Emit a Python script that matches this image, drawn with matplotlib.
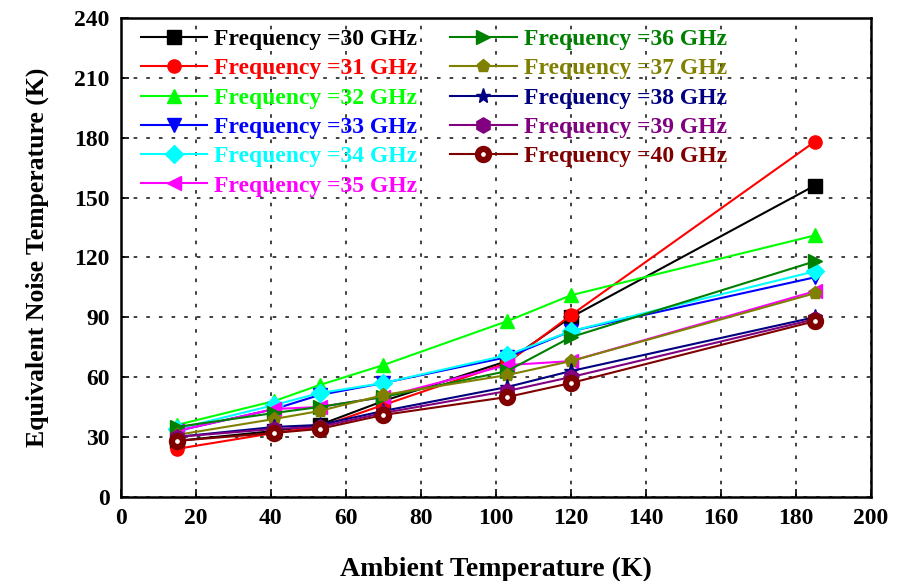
import matplotlib

matplotlib.use("Agg")
import matplotlib.pyplot as plt
import numpy as np

ambient_k = [15, 41, 53, 70, 103, 120, 185]

noise_30 = [28, 33, 36, 48, 68, 90, 156]
noise_31 = [24, 32, 35, 46, 67, 91, 178]
noise_32 = [36, 48, 56, 66, 88, 101, 131]
noise_33 = [33, 44, 51, 57, 70, 83, 110]
noise_34 = [34, 46, 52, 57, 71, 83, 113]
noise_35 = [33, 44, 45, 50, 66, 68, 103]
noise_36 = [35, 42, 45, 50, 63, 80, 118]
noise_37 = [31, 39, 43, 51, 61, 68, 102]
noise_38 = [30, 35, 36, 43, 55, 63, 90]
noise_39 = [30, 34, 35, 42, 53, 60, 89]
noise_40 = [28, 32, 34, 41, 50, 57, 88]

freqs_ghz = [30, 31, 32, 33, 34, 35, 36, 37, 38, 39, 40]
series = [noise_30, noise_31, noise_32, noise_33, noise_34, noise_35,
          noise_36, noise_37, noise_38, noise_39, noise_40]

STYLES = [
    ("#000000", "s"),
    ("#FF0000", "o"),
    ("#00FF00", "^"),
    ("#0000FF", "v"),
    ("#00FFFF", "D"),
    ("#FF00FF", "<"),
    ("#008000", ">"),
    ("#808000", "p"),
    ("#000080", "*"),
    ("#800080", "h"),
    ("#800000", "o"),
]

plt.rcParams["font.family"] = ["Liberation Serif", "DejaVu Serif"]
plt.rcParams["font.weight"] = "bold"

fig = plt.figure(figsize=(9.14, 5.81), dpi=100)
ax = fig.add_axes([0.132, 0.145, 0.821, 0.824])

for freq, values, (color, marker) in zip(freqs_ghz, series, STYLES):
    kw = dict(color=color, marker=marker, markersize=9.5, lw=1.5,
              markeredgecolor=color, markerfacecolor=color)
    if freq == 40:
        kw.update(markerfacecolor="white", markeredgewidth=4.5, markersize=8)
    if freq == 39:
        kw.update(markersize=11)
    if marker == "*":
        kw.update(markersize=11)
    ax.plot(ambient_k, values, label=f"Frequency ={freq} GHz", **kw)

ax.set_xlim(0, 200)
ax.set_ylim(0, 240)
ax.set_xticks(np.arange(0, 201, 20))
ax.set_yticks(np.arange(0, 241, 30))
ax.tick_params(direction="in", length=6, width=1.2, labelsize=17, pad=8)
for tl in [*ax.get_xticklabels(), *ax.get_yticklabels()]:
    tl.set_fontweight("bold")
for sp in ax.spines.values():
    sp.set_linewidth(1.8)
ax.grid(True, color="#333333", lw=1.3, linestyle=(0, (2, 5)))

ax.set_xlabel("Ambient Temperature (K)", fontsize=20, fontweight="bold", labelpad=20)
ax.set_ylabel("Equivalent Noise Temperature (K)", fontsize=18.5, fontweight="bold", labelpad=18)

leg = ax.legend(
    loc="upper left",
    bbox_to_anchor=(0.013, 1.0),
    ncol=2,
    frameon=False,
    handlelength=2.8,
    handletextpad=0.3,
    columnspacing=1.4,
    labelspacing=0.33,
    borderaxespad=0.05,
    labelcolor="linecolor",
    prop={"size": 17, "weight": "bold"},
)

fig.savefig("out.png", dpi=100)
